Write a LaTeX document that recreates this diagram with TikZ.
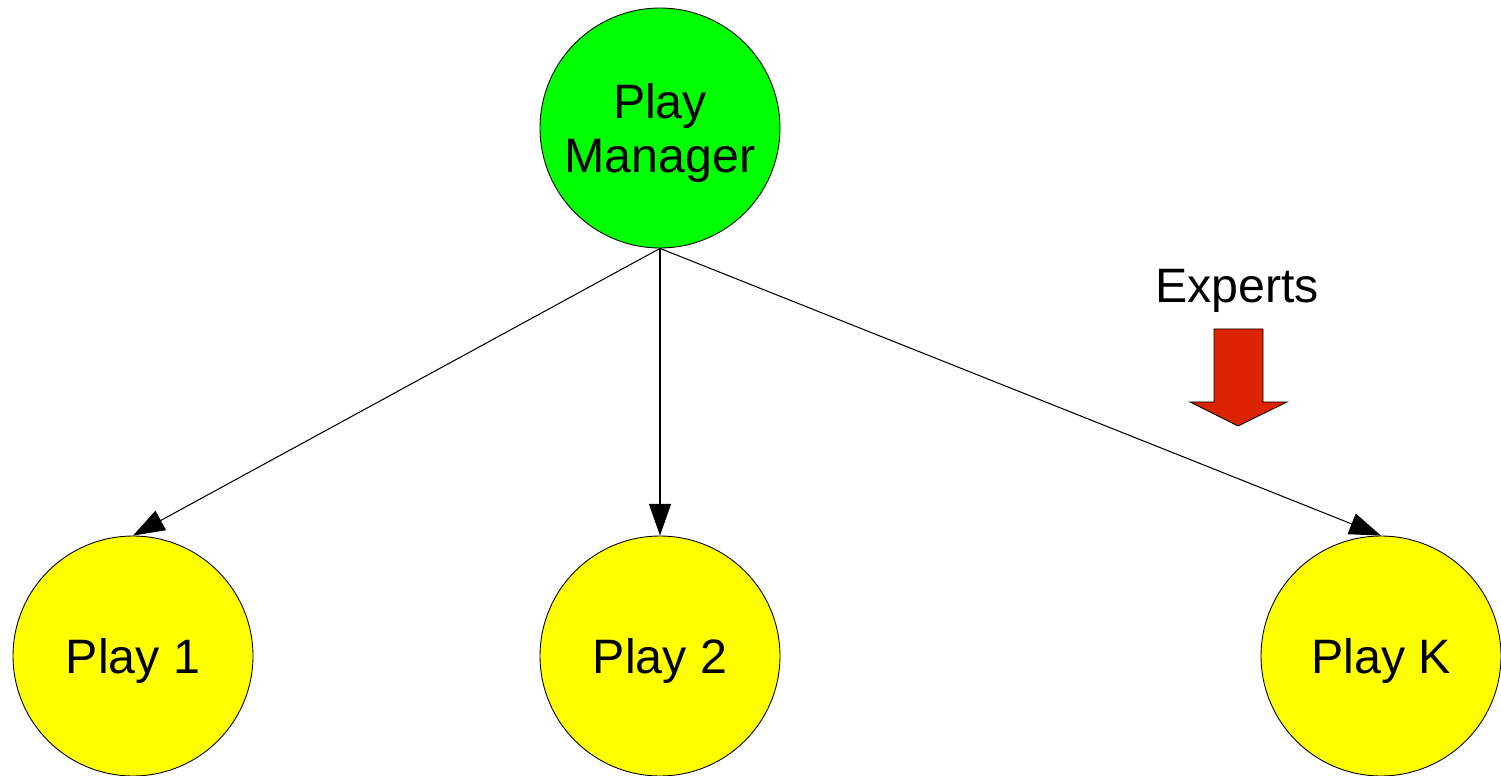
\documentclass[tikz,border=0pt]{standalone}
\usepackage{fontspec}
\setmainfont{Liberation Sans}
\usetikzlibrary{arrows.meta}
\definecolor{managergreen}{RGB}{0,255,0}
\definecolor{playyellow}{RGB}{255,255,0}
\definecolor{expertred}{RGB}{221,34,0}

\begin{document}
\begin{tikzpicture}[x=0.02cm,y=-0.02cm,->,>={Triangle[length=18pt,width=12.5pt]},line width=0.6pt,
    play/.style={draw, circle, fill=playyellow, minimum size=4.8cm, inner sep=0pt,
      line width=0.5pt, align=center, text depth=0pt, font=\fontsize{27.5}{30.6}\selectfont},
    label text/.style={font=\fontsize{27.5}{30.6}\selectfont, inner sep=0pt}]
    \useasboundingbox (0,0) rectangle (1501,776);

    % Manager node
    \node[play, fill=managergreen] (pm) at (660,128) {Play\\Manager};

    % Play nodes
    \node[play] (p1) at (133,656) {Play 1};
    \node[play] (p2) at (660,656) {Play 2};
    \node[play] (pk) at (1381,656) {Play K};

    \draw [->] (pm.south) -- (p1.north);
    \draw [->] (pm.south) -- (p2.north);
    \draw [->] (pm.south) -- (pk.north);

    % Experts arrow
    \node[label text, anchor=base] (ex) at (1237,303) {Experts};
    \draw[-, fill=expertred, line width=0.5pt] (1214,329) -- (1263,329) -- (1263,402)
      -- (1287,402) -- (1238,426) -- (1190,402) -- (1214,402) -- cycle;

\end{tikzpicture}
\end{document}
